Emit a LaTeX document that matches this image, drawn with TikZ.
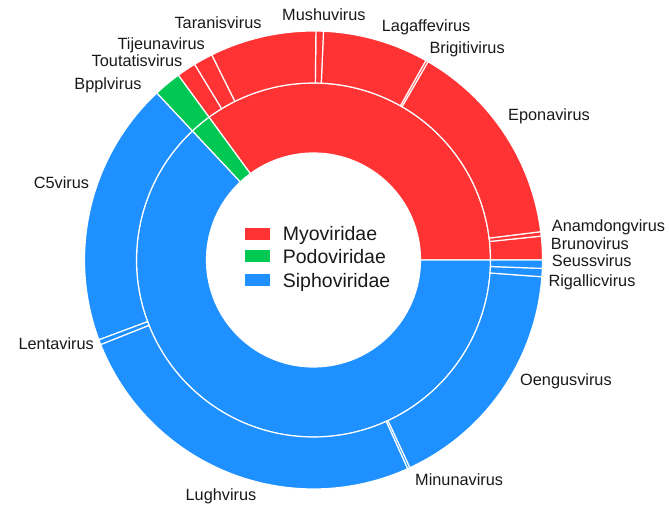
\documentclass[tikz,border=0pt]{standalone}
\usepackage{fontspec}
\setmainfont{Liberation Sans}
\definecolor{myo}{RGB}{255,51,51}
\definecolor{podo}{RGB}{0,200,83}
\definecolor{sipho}{RGB}{30,144,255}
\newcommand{\ringseg}[5]{%
  \filldraw[seg, fill=#5] (#1:#3pt) arc[start angle=#1, end angle=#2, radius=#3pt]
    -- (#2:#4pt) arc[start angle=#2, end angle=#1, radius=#4pt] -- cycle;}
\tikzset{
  seg/.style={draw=white, line width=1.2pt, line join=miter},
  lab/.style={font=\fontsize{16.3}{18}\selectfont, inner sep=0pt, text=black!90},
  leg/.style={font=\fontsize{19.5}{22}\selectfont, inner sep=0pt, anchor=base west, text=black!90},
  legbox/.style={inner sep=0pt, minimum width=25pt, minimum height=12pt, anchor=south west}
}
\begin{document}
\begin{tikzpicture}[x=1pt,y=1pt]
\useasboundingbox (-313.5,-250) rectangle (355.5,260);
% inner ring
\ringseg{0}{126.2}{107}{177}{myo}
\ringseg{126.2}{133.2}{107}{177}{podo}
\ringseg{133.2}{360}{107}{177}{sipho}
% outer ring
\ringseg{0}{6.0}{177}{229}{myo}
\ringseg{6.0}{7.1}{177}{229}{myo}
\ringseg{7.1}{60.0}{177}{229}{myo}
\ringseg{60.0}{60.6}{177}{229}{myo}
\ringseg{60.6}{87.5}{177}{229}{myo}
\ringseg{87.5}{89.4}{177}{229}{myo}
\ringseg{89.4}{116.4}{177}{229}{myo}
\ringseg{116.4}{121.3}{177}{229}{myo}
\ringseg{121.3}{126.2}{177}{229}{myo}
\ringseg{126.2}{133.2}{177}{229}{podo}
\ringseg{133.2}{200.4}{177}{229}{sipho}
\ringseg{200.4}{201.7}{177}{229}{sipho}
\ringseg{201.7}{294.3}{177}{229}{sipho}
\ringseg{294.3}{294.9}{177}{229}{sipho}
\ringseg{294.9}{355.8}{177}{229}{sipho}
\ringseg{355.8}{357.9}{177}{229}{sipho}
\ringseg{357.9}{360}{177}{229}{sipho}
% labels, right side
\node[lab, anchor=base west] (lagaffe) at (68.2,228.3) {Lagaffevirus};
\node[lab, anchor=base west] (brigiti) at (115.8,206.7) {Brigitivirus};
\node[lab, anchor=base west] (epona) at (194.5,139.3) {Eponavirus};
\node[lab, anchor=base west] (anamdong) at (238.2,28.3) {Anamdongvirus};
\node[lab, anchor=base west] (bruno) at (237.2,10.7) {Brunovirus};
\node[lab, anchor=base west] (seuss) at (238.2,-6.7) {Seussvirus};
\node[lab, anchor=base west] (rigallic) at (234.8,-26.5) {Rigallicvirus};
\node[lab, anchor=base west] (oengus) at (206.5,-125.5) {Oengusvirus};
\node[lab, anchor=base west] (minuna) at (101.5,-226) {Minunavirus};
% labels, left side
\node[lab, anchor=base east] (taranis) at (-51.8,231.7) {Taranisvirus};
\node[lab, anchor=base east] (tijeuna) at (-108.5,210.7) {Tijeunavirus};
\node[lab, anchor=base east] (toutatis) at (-131,193.3) {Toutatisvirus};
\node[lab, anchor=base east] (bppl) at (-171.8,170.7) {Bpplvirus};
\node[lab, anchor=base east] (c5) at (-224.2,71.7) {C5virus};
\node[lab, anchor=base east] (lenta) at (-219.5,-89.3) {Lentavirus};
% labels, centred
\node[lab, anchor=base] (mushu) at (10.4,239.7) {Mushuvirus};
\node[lab, anchor=base] (lugh) at (-92.5,-240.5) {Lughvirus};
% legend
\node[legbox, fill=myo] (kmyo) at (-68.5,20) {};
\node[legbox, fill=podo] (kpodo) at (-68.5,-2.7) {};
\node[legbox, fill=sipho] (ksipho) at (-68.5,-26.7) {};
\node[leg] (tmyo) at (-30.8,19) {Myoviridae};
\node[leg] (tpodo) at (-30.8,-4) {Podoviridae};
\node[leg] (tsipho) at (-30.8,-27.7) {Siphoviridae};
\end{tikzpicture}
\end{document}
